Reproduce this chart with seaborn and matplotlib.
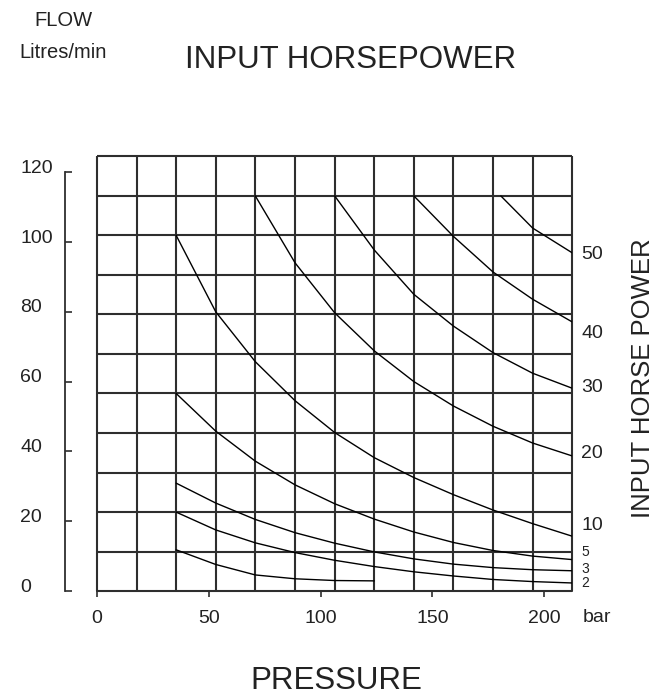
import numpy as np
import pandas as pd
import matplotlib
matplotlib.use("Agg")
import matplotlib.pyplot as plt
import matplotlib.transforms as mtransforms
import seaborn as sns

# ---------------- data ----------------
# pressure in bar, flow in litres/min, one curve per input horsepower
hp_50_p = [180.6, 194.8, 212.5]
hp_50_q = [113.2, 104.0, 96.9]

hp_40_p = [141.7, 159.4, 177.1, 194.8, 212.5]
hp_40_q = [113.2, 101.6, 91.4, 83.6, 77.1]

hp_30_p = [106.3, 124.0, 141.7, 159.4, 177.1, 194.8, 212.5]
hp_30_q = [113.2, 97.7, 85.0, 75.9, 68.3, 62.4, 58.1]

hp_20_p = [70.8, 88.6, 106.3, 124.0, 141.7, 159.4, 177.1, 194.8, 212.5]
hp_20_q = [113.2, 94.0, 79.7, 68.8, 60.0, 53.0, 47.2, 42.4, 38.7]

hp_10_p = [35.4, 53.1, 70.8, 88.6, 106.3, 124.0, 141.7, 159.4, 177.1, 194.8, 212.5]
hp_10_q = [101.9, 80.0, 65.7, 54.5, 45.4, 38.2, 32.5, 27.6, 23.2, 19.3, 15.7]

hp_5_p = [35.4, 53.1, 70.8, 88.6, 106.3, 124.0, 141.7, 159.4, 177.1, 194.8, 212.5]
hp_5_q = [56.6, 45.8, 37.2, 30.4, 25.0, 20.6, 16.9, 13.9, 11.6, 10.0, 9.0]

hp_3_p = [35.4, 53.1, 70.8, 88.6, 106.3, 124.0, 141.7, 159.4, 177.1, 194.8, 212.5]
hp_3_q = [30.9, 25.2, 20.5, 16.7, 13.7, 11.2, 9.2, 7.7, 6.7, 6.1, 5.8]

hp_2_p = [35.4, 53.1, 70.8, 88.6, 106.3, 124.0, 141.7, 159.4, 177.1, 194.8, 212.5]
hp_2_q = [22.6, 17.5, 13.8, 11.0, 8.8, 7.0, 5.5, 4.3, 3.3, 2.7, 2.3]

hp_1_p = [35.4, 53.1, 70.8, 88.6, 106.3, 124.0]
hp_1_q = [11.8, 7.6, 4.6, 3.5, 3.0, 2.9]

curve_names = ["50", "40", "30", "20", "10", "5", "3", "2", "1"]
curve_p = [hp_50_p, hp_40_p, hp_30_p, hp_20_p, hp_10_p, hp_5_p, hp_3_p, hp_2_p, hp_1_p]
curve_q = [hp_50_q, hp_40_q, hp_30_q, hp_20_q, hp_10_q, hp_5_q, hp_3_q, hp_2_q, hp_1_q]

x_ticks = [0, 50, 100, 150, 200]
y_ticks = [0, 20, 40, 60, 80, 100, 120]

# right-hand curve labels (label text, flow level where the label sits)
right_labels = ["50", "40", "30", "20", "10", "5", "3", "2"]
right_label_q = [96.3, 73.9, 58.2, 39.3, 18.9, 11.2, 6.3, 2.3]
right_label_size = [14, 14, 14, 14, 14, 10, 10, 10]

# ---------------- layout ----------------
W, H = 664, 695
X_MAX = 212.5
Y_MAX = 124.5
N_COLS, N_ROWS = 12, 11
GRID_COLOR = "#2e2e2e"
TEXT_COLOR = "#222222"

rows = []
for name, ps, qs in zip(curve_names, curve_p, curve_q):
    for p, q in zip(ps, qs):
        rows.append({"hp": name, "pressure": p, "flow": q})
df = pd.DataFrame(rows)

sns.set_style("white", {"xtick.bottom": True, "ytick.left": True})
plt.rcParams["font.family"] = ["Liberation Sans", "DejaVu Sans"]

fig = plt.figure(figsize=(W / 100, H / 100), dpi=100)
ax = fig.add_axes([97 / W, 1 - 591 / H, (572.2 - 97) / W, (591 - 156.5) / H])

# grid drawn as a framework of lines
ax.vlines(np.linspace(0, X_MAX, N_COLS + 1), 0, Y_MAX, colors=GRID_COLOR,
          linewidth=1.5, clip_on=False, zorder=1)
ax.hlines(np.linspace(0, Y_MAX, N_ROWS + 1), 0, X_MAX, colors=GRID_COLOR,
          linewidth=1.5, clip_on=False, zorder=1)

sns.lineplot(data=df, x="pressure", y="flow", hue="hp", units="hp",
             estimator=None, sort=False,
             palette={n: "black" for n in curve_names},
             linewidth=1.0, legend=False, ax=ax, zorder=3)

ax.set_xlim(0, X_MAX)
ax.set_ylim(0, Y_MAX)
ax.set_xlabel("")
ax.set_ylabel("")

for s in ["top", "right"]:
    ax.spines[s].set_visible(False)
ax.spines["left"].set_position(("outward", 32 * 0.72))
ax.spines["left"].set_bounds(0, 120)
ax.spines["bottom"].set_bounds(0, X_MAX)
for s in ["left", "bottom"]:
    ax.spines[s].set_color(GRID_COLOR)
    ax.spines[s].set_linewidth(1.3)

ax.set_xticks(x_ticks)
ax.set_xticklabels([str(v) for v in x_ticks])
ax.set_yticks(y_ticks)
ax.set_yticklabels([str(v) for v in y_ticks])
ax.tick_params(axis="x", bottom=True, direction="out", length=4.5, width=1.2,
               color=GRID_COLOR, pad=9, labelsize=14, labelcolor=TEXT_COLOR)
ax.tick_params(axis="y", left=True, direction="in", length=5, width=1.2,
               color=GRID_COLOR, pad=32.4, labelsize=14, labelcolor=TEXT_COLOR)
shift = mtransforms.ScaledTranslation(0, 6 / 100, fig.dpi_scale_trans)
for lab in ax.get_yticklabels():
    lab.set_ha("left")
    lab.set_transform(lab.get_transform() + shift)

# curve labels on the right
trans = mtransforms.blended_transform_factory(ax.transAxes, ax.transData)
for txt, q, fs in zip(right_labels, right_label_q, right_label_size):
    ax.text(1 + 9 / 475, q, txt, transform=trans, ha="left", va="center",
            fontsize=fs, color=TEXT_COLOR)

# titles and axis names
fig.text(63 / W, 1 - 20 / H, "FLOW", ha="center", va="center", fontsize=14.5, color=TEXT_COLOR)
fig.text(63 / W, 1 - 52 / H, "Litres/min", ha="center", va="center", fontsize=14.5, color=TEXT_COLOR)
fig.text(351 / W, 1 - 60 / H, "INPUT HORSEPOWER", ha="center", va="center", fontsize=22.5, color=TEXT_COLOR)
fig.text(336 / W, 1 - 681 / H, "PRESSURE", ha="center", va="center", fontsize=22.5, color=TEXT_COLOR)
fig.text(597 / W, 1 - 618 / H, "bar", ha="center", va="center", fontsize=14, color=TEXT_COLOR)
fig.text(643 / W, 1 - 378 / H, "INPUT HORSE POWER", ha="center", va="center",
         rotation=90, fontsize=18.5, color=TEXT_COLOR)

fig.savefig("out.png", dpi=100, facecolor="white")
